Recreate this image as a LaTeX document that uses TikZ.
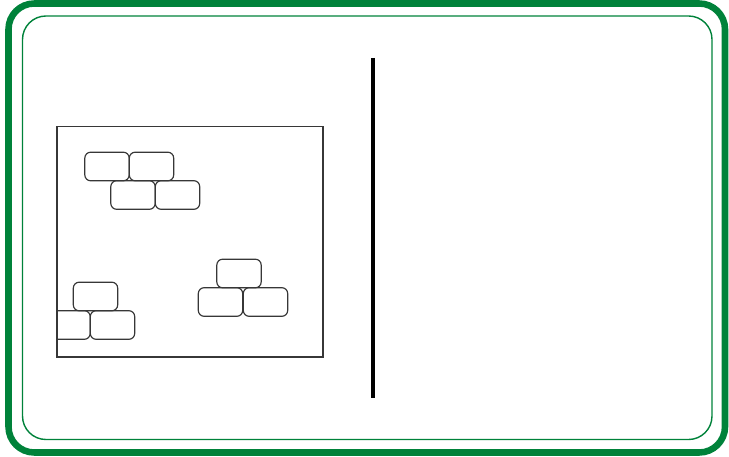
\documentclass[tikz,border=0pt]{standalone}
\usepackage{tikz}
\definecolor{frame}{RGB}{0,130,58}
\definecolor{wall}{RGB}{55,55,55}

\begin{document}
\begin{tikzpicture}[x=0.03cm, y=-0.03cm,
	brick/.style={draw=wall, line width=1pt, rounded corners=5pt, inner sep=0pt, minimum width=1.33cm, minimum height=0.86cm}]
	\useasboundingbox (0,0) rectangle (729,457);

	% card frame
	\draw[frame, line width=5.6pt, rounded corners=22pt]	(8.5,3.5) rectangle (725,452.5);
	\draw[frame, line width=1.2pt, rounded corners=20pt]	(22.5,16) rectangle (712,439.5);

	% divider
	\draw[black, line width=2.6pt]	(373,58) -- (373,398);

	% box with bricks
	\draw[wall, line width=1.2pt]	(57,126.5) rectangle (323,357);
	\node[brick] (b1) at (107,166.5) {};
	\node[brick] (b2) at (151.5,166.5) {};
	\node[brick] (b3) at (133,195) {};
	\node[brick] (b4) at (177.5,195) {};

	\node[brick] (p1) at (239,273.5) {};
	\node[brick] (p2) at (220.5,302) {};
	\node[brick] (p3) at (265.5,302) {};

	\begin{scope}
		\clip (57,126.5) rectangle (323,357);
		\node[brick] (c1) at (95.5,296.5) {};
		\node[brick] (c2) at (68,325) {};
		\node[brick] (c3) at (112.5,325) {};
	\end{scope}
\end{tikzpicture}
\end{document}
